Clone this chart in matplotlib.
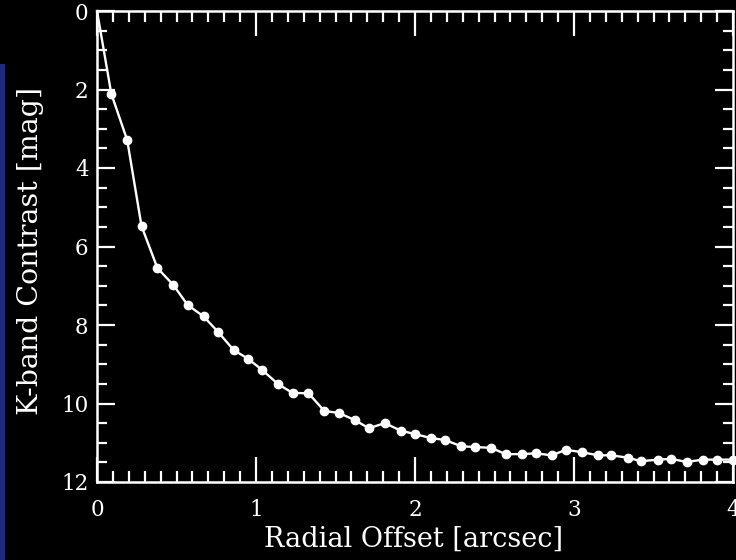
import matplotlib
matplotlib.use('Agg')
import matplotlib.pyplot as plt
from matplotlib.patches import Rectangle
from matplotlib.ticker import MultipleLocator

# radial offset [arcsec] and K-band contrast [mag]
offset = [0.00, 0.09, 0.19, 0.28, 0.38, 0.48, 0.57, 0.67, 0.76, 0.86,
          0.95, 1.04, 1.14, 1.23, 1.33, 1.43, 1.52, 1.62, 1.71, 1.81,
          1.91, 2.00, 2.10, 2.19, 2.29, 2.38, 2.48, 2.57, 2.67, 2.76,
          2.86, 2.95, 3.05, 3.15, 3.23, 3.34, 3.42, 3.53, 3.61, 3.71,
          3.81, 3.90, 4.00]
contrast = [0.00, 2.11, 3.29, 5.48, 6.55, 6.98, 7.49, 7.78, 8.17, 8.64,
            8.86, 9.15, 9.51, 9.73, 9.74, 10.19, 10.24, 10.42, 10.63, 10.50,
            10.69, 10.78, 10.88, 10.93, 11.09, 11.11, 11.13, 11.29, 11.29, 11.27,
            11.32, 11.18, 11.24, 11.32, 11.32, 11.38, 11.47, 11.43, 11.41, 11.49,
            11.43, 11.43, 11.43]

plt.rcParams['font.family'] = ['DejaVu Serif']

fig = plt.figure(figsize=(7.36, 5.6), dpi=100, facecolor='black')
# blue slide stripe on the left edge
fig.patches.append(Rectangle((0, 0), 5 / 736, 1 - 64 / 560, transform=fig.transFigure,
                             facecolor='#22287a', edgecolor='none', zorder=0))

ax = fig.add_axes([97 / 736, 1 - 482 / 560, 636 / 736, 471 / 560])
ax.set_facecolor('black')
ax.plot(offset, contrast, color='white', lw=1.7, marker='o', ms=6,
        markevery=slice(1, None), clip_on=False)

ax.set_xlim(0, 4)
ax.set_ylim(12, 0)
ax.xaxis.set_major_locator(MultipleLocator(1))
ax.xaxis.set_minor_locator(MultipleLocator(0.1))
ax.yaxis.set_major_locator(MultipleLocator(2))
ax.yaxis.set_minor_locator(MultipleLocator(0.5))

for s in ax.spines.values():
    s.set_color('white')
    s.set_linewidth(1.8)
ax.tick_params(which='both', colors='white', direction='in', top=True, right=True,
               width=1.6, labelsize=15.5)
ax.tick_params(axis='x', which='major', length=18, pad=12)
ax.tick_params(axis='x', which='minor', length=8)
ax.tick_params(axis='y', which='major', length=13, pad=6)
ax.tick_params(axis='y', which='minor', length=7)

ax.set_xlabel('Radial Offset [arcsec]', color='white', fontsize=19.5)
ax.set_ylabel('K-band Contrast [mag]', color='white', fontsize=20.5)
ax.xaxis.set_label_coords(0.4976, -0.093)
ax.yaxis.set_label_coords(-0.083, 0.49)

fig.savefig('out.png', dpi=100, facecolor='black')
